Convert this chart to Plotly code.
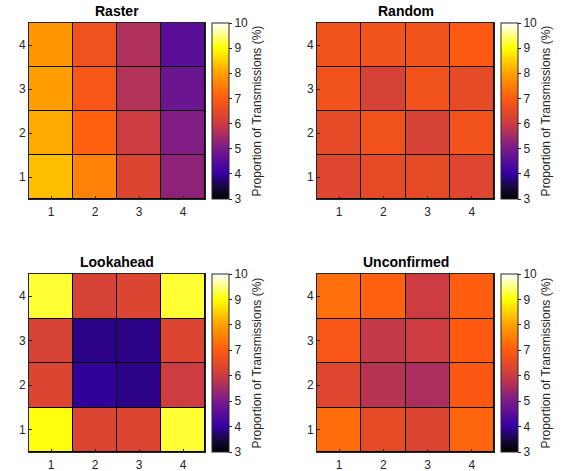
import plotly.graph_objects as go

titles = ["Raster", "Random", "Lookahead", "Unconfirmed"]
xs = [1, 2, 3, 4]
ys = [1, 2, 3, 4]
# rows listed from y=1 (bottom) to y=4 (top)
raster = [[8.3, 7.55, 6.3, 5.25],
          [8.1, 7.1, 6.0, 5.1],
          [7.95, 6.85, 5.7, 4.8],
          [7.85, 6.7, 5.65, 4.55]]
random_ = [[6.35, 6.5, 6.5, 6.35],
           [6.5, 6.75, 6.2, 6.75],
           [6.75, 6.2, 6.75, 6.5],
           [6.75, 6.75, 6.75, 6.95]]
lookahead = [[9.05, 6.3, 6.3, 9.2],
             [6.3, 3.95, 3.85, 6.0],
             [6.2, 3.85, 3.85, 6.3],
             [9.2, 6.2, 6.3, 9.2]]
unconfirmed = [[7.25, 6.5, 6.3, 7.15],
               [6.35, 5.75, 5.6, 6.9],
               [6.85, 5.9, 6.0, 7.0],
               [7.3, 7.1, 6.0, 7.05]]
cb_ticks = [3, 4, 5, 6, 7, 8, 9, 10]
zmin, zmax = 3, 10

colorscale = [
    [0.0, "#000000"],
    [0.07, "#180840"],
    [0.143, "#3400a4"],
    [0.286, "#7a1a8c"],
    [0.429, "#cc3c40"],
    [0.571, "#ff5a10"],
    [0.714, "#ffa000"],
    [0.857, "#ffff00"],
    [1.0, "#ffffff"],
]

W, H = 565, 471
# pixel geometry of panels: (x0, x1, ytop, ybot)
panels = [(29, 205, 23, 199), (317, 494, 23, 199),
          (29, 205, 274, 452), (317, 494, 274, 452)]
datas = [raster, random_, lookahead, unconfirmed]

fig = go.Figure()
font_fam = "Liberation Sans, Arial, sans-serif"
for i, (z, (x0, x1, yt, yb)) in enumerate(zip(datas, panels)):
    xa = "x" if i == 0 else f"x{i+1}"
    ya = "y" if i == 0 else f"y{i+1}"
    fig.add_trace(go.Heatmap(
        z=z, x=xs, y=ys, zmin=zmin, zmax=zmax, colorscale=colorscale,
        xgap=1, ygap=1, xaxis=xa, yaxis=ya, hoverinfo="skip",
        colorbar=dict(
            x=(x1 + 7) / W, xanchor="left", xref="paper",
            y=(H - (yt + yb) / 2) / H, yanchor="middle",
            len=(yb - yt), lenmode="pixels",
            thickness=17, thicknessmode="pixels",
            outlinecolor="#262626", outlinewidth=1,
            tickvals=cb_ticks, ticks="outside", ticklen=3, tickcolor="#262626",
            tickfont=dict(size=12, color="#262626", family=font_fam),
            title=dict(text="Proportion of Transmissions (%)", side="right",
                       font=dict(size=12, color="#262626", family=font_fam)),
            xpad=0, ypad=0,
        ),
    ))
    axn = "" if i == 0 else str(i + 1)
    common = dict(showline=True, linecolor="#262626", linewidth=1, mirror=True,
                  ticks="inside", ticklen=3, tickcolor="#262626",
                  tickfont=dict(size=12, color="#262626", family=font_fam),
                  showgrid=False, zeroline=False, tickvals=[1, 2, 3, 4],
                  range=[0.5, 4.5], fixedrange=True, automargin=False)
    fig.layout["xaxis" + axn] = dict(domain=[x0 / W, x1 / W], anchor=ya,
                                      ticklabelstandoff=2, **common)
    fig.layout["yaxis" + axn] = dict(domain=[(H - yb) / H, (H - yt) / H], anchor=xa, **common)
    fig.add_annotation(text="<b>" + titles[i] + "</b>", x=(x0 + x1) / 2 / W, y=(H - yt + 2) / H,
                       xref="paper", yref="paper", xanchor="center", yanchor="bottom",
                       showarrow=False, font=dict(size=14, color="#000000", family=font_fam))

fig.update_layout(width=W, height=H,
                  margin=dict(l=0, r=0, t=0, b=0, pad=0, autoexpand=False),
                  plot_bgcolor="#000000", paper_bgcolor="#ffffff", showlegend=False)
fig.write_html("out.html", config={"displayModeBar": False},
               post_script="document.body.style.margin='0';")
